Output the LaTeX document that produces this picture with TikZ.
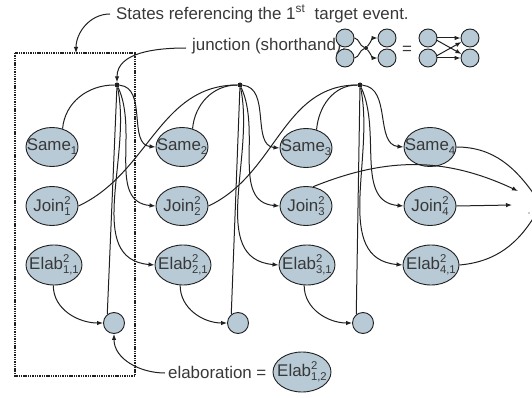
\documentclass[tikz,border=0pt]{standalone}
\usepackage{fontspec}
\setmainfont{Liberation Sans}
\usetikzlibrary{arrows.meta,shapes.geometric}
\definecolor{nodefill}{HTML}{B8CAD6}
\definecolor{ink}{HTML}{202020}
\definecolor{txt}{HTML}{383838}
\newcommand\SupSub[2]{{\fontsize{11.3}{11.3}\selectfont\rlap{\raisebox{6.8pt}{#1}}\raisebox{-4pt}{#2}}}
\newcommand\SubOnly[1]{{\fontsize{11.3}{11.3}\selectfont\raisebox{-4pt}{#1}}}
\newcommand\nlab[1]{\makebox[0pt]{#1}}
\begin{document}
\begin{tikzpicture}[x=1pt,y=-1pt,
  every node/.style={font=\fontsize{16.9}{18}\selectfont, text=txt},
  ell/.style={ellipse, draw=ink, fill=nodefill, line width=0.9pt, inner sep=0pt},
  sm/.style={ell, minimum width=52pt, minimum height=39pt},
  el/.style={ell, minimum width=56pt, minimum height=40pt},
  cir/.style={circle, draw=ink, fill=nodefill, line width=0.9pt, inner sep=0pt, minimum size=21pt},
  mini/.style={circle, draw=ink, fill=nodefill, line width=0.9pt, inner sep=0pt, minimum size=18pt},
  jn/.style={circle, fill=ink, inner sep=0pt, minimum size=5pt},
  ln/.style={draw=ink, line width=1pt},
  arr/.style={ln, -{Latex[length=6pt,width=4.5pt]}},
  callout/.style={text=txt, anchor=west, inner sep=0pt},
  frame/.style={draw=ink, line width=2.2pt, dash pattern=on 1.4pt off 0.9pt}
]
\clip (0,0) rectangle (532,398);
\useasboundingbox (0,0) rectangle (532,398);

% callout texts
\node[callout] (t1) at (116,14) {States referencing the 1\textsuperscript{st}\ \ target event.};
\node[callout] (t2) at (192,46) {junction (shorthand):};
\node[callout] (t3) at (168,372) {elaboration =};

% main nodes
\node[sm] (S1) at (52,147) {\nlab{Same\SubOnly{1}}};
\node[sm] (S2) at (182,147) {\nlab{Same\SubOnly{2}}};
\node[sm] (S3) at (306,148) {\nlab{Same\SubOnly{3}}};
\node[sm] (S4) at (430,147) {\nlab{Same\SubOnly{4}}};
\node[sm] (Jo1) at (52,206) {\nlab{Join\SupSub{2}{1}}};
\node[sm] (Jo2) at (182,206) {\nlab{Join\SupSub{2}{2}}};
\node[sm] (Jo3) at (306,206) {\nlab{Join\SupSub{2}{3}}};
\node[sm] (Jo4) at (430,206) {\nlab{Join\SupSub{2}{4}}};
\node[el] (E1) at (54,265) {\nlab{Elab\SupSub{2}{1,1}}};
\node[el] (E2) at (183,265) {\nlab{Elab\SupSub{2}{2,1}}};
\node[el] (E3) at (307,265) {\nlab{Elab\SupSub{2}{3,1}}};
\node[el] (E4) at (431,265) {\nlab{Elab\SupSub{2}{4,1}}};
\node[cir] (C1) at (114,323) {};
\node[cir] (C2) at (238,323) {};
\node[cir] (C3) at (363,323) {};
\node[jn] (J1) at (117,85) {};
\node[jn] (J2) at (240,85) {};
\node[jn] (J3) at (360,85) {};
\node[el, minimum width=58pt] (E12) at (302,372) {\nlab{Elab\SupSub{2}{1,2}}};

% right side targets
\coordinate (R1) at (538,200);
\coordinate (R2) at (518,191);
\coordinate (R3) at (512,205);
\coordinate (R4) at (537,212);
\node[circle, fill=ink, inner sep=0pt, minimum size=1.4pt] (dot) at (529,213) {};

% inputs to junctions
\draw[ln] (S1.60) to[out=85,in=180] (J1);
\draw[ln] (S2.60) to[out=85,in=180] (J2);
\draw[ln] (S3.60) to[out=85,in=180] (J3);
\draw[ln] (Jo1.east) to[out=25,in=180] (J2);
\draw[ln] (Jo2.east) to[out=25,in=180] (J3);

% junction outputs
\draw[arr] (J1) to[out=-5,in=175] (S2.west);
\draw[arr] (J1) to[out=-65,in=175] (Jo2.west);
\draw[arr] (J1) to[out=-78,in=175] (E2.west);
\draw[ln] (J1) -- (C1.128);
\draw[arr] (J2) to[out=-5,in=175] (S3.west);
\draw[arr] (J2) to[out=-65,in=175] (Jo3.west);
\draw[arr] (J2) to[out=-78,in=175] (E3.west);
\draw[ln] (J2) -- (C2.128);
\draw[arr] (J3) to[out=-5,in=175] (S4.west);
\draw[arr] (J3) to[out=-65,in=175] (Jo4.west);
\draw[arr] (J3) to[out=-78,in=175] (E4.west);
\draw[ln] (J3) -- (C3.128);

% elaboration links
\draw[arr] (E1.268) to[out=-90,in=180] (C1.west);
\draw[arr] (E2.262) to[out=-90,in=180] (C2.west);
\draw[arr] (E3.262) to[out=-90,in=180] (C3.west);

% to the right
\draw[arr] (Jo3.70) to[out=22,in=155] (R2);
\draw[arr] (S4.east) to[out=0,in=125] (R1);
\draw[arr] (Jo4.east) -- (R3);
\draw[ln] (E4.east) to[out=5,in=-120] (R4);

% callout arrows
\coordinate (FT) at (76,53);
\draw[arr] (t1.west) ++(-6,0) coordinate (t1a) (t1a) to[out=180,in=90] (FT);
\draw[arr] (t2.west) ++(-6,2) coordinate (t2a) (t2a) to[out=180,in=90] (J1);
\draw[arr] (t3.west) ++(-3,1) coordinate (t3a) (t3a) to[out=180,in=-90] (C1.south);

% frame
\draw[frame] (15,53) rectangle (135,376);

% shorthand icon
\node[mini] (sa) at (345,38) {};
\node[mini] (sb) at (345,58) {};
\node[jn, minimum size=4pt] (sj) at (366,48) {};
\node[mini] (sc) at (387,38) {};
\node[mini] (sd) at (387,58) {};
\draw[ln] (sa.east) to[out=-10,in=160] (sj);
\draw[ln] (sb.east) to[out=10,in=200] (sj);
\draw[arr] (sj) to[out=50,in=180] (sc.west);
\draw[arr] (sj) to[out=-50,in=180] (sd.west);
\node (eq) at (407,50) {=};
\node[mini] (ra) at (428,38) {};
\node[mini] (rb) at (428,58) {};
\node[mini] (rc) at (470,38) {};
\node[mini] (rd) at (470,58) {};
\draw[arr] (ra.east) -- (rc.west);
\draw[arr] (ra.-15) -- (rd.155);
\draw[arr] (rb.15) -- (rc.-155);
\draw[arr] (rb.east) -- (rd.west);
\end{tikzpicture}
\end{document}
